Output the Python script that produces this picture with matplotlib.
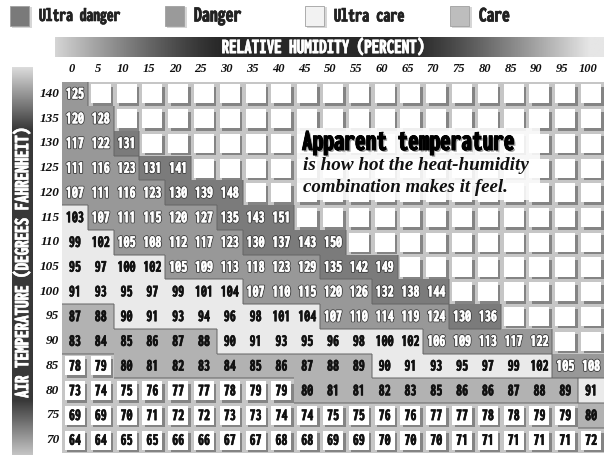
import os

import numpy as np
import matplotlib.pyplot as plt
from matplotlib import font_manager as fm
from matplotlib.patches import Rectangle
import matplotlib.patheffects as pe

# relative humidity (percent) across, air temperature (F) down
humidity = list(range(0, 105, 5))
air_temp = [140, 135, 130, 125, 120, 115, 110, 105, 100, 95, 90, 85, 80, 75, 70]

# apparent temperature, one row per air temperature (blank cells are left out)
apparent = [
    [125],
    [120, 128],
    [117, 122, 131],
    [111, 116, 123, 131, 141],
    [107, 111, 116, 123, 130, 139, 148],
    [103, 107, 111, 115, 120, 127, 135, 143, 151],
    [99, 102, 105, 108, 112, 117, 123, 130, 137, 143, 150],
    [95, 97, 100, 102, 105, 109, 113, 118, 123, 129, 135, 142, 149],
    [91, 93, 95, 97, 99, 101, 104, 107, 110, 115, 120, 126, 132, 138, 144],
    [87, 88, 90, 91, 93, 94, 96, 98, 101, 104, 107, 110, 114, 119, 124, 130, 136],
    [83, 84, 85, 86, 87, 88, 90, 91, 93, 95, 96, 98, 100, 102, 106, 109, 113, 117, 122],
    [78, 79, 80, 81, 82, 83, 84, 85, 86, 87, 88, 89, 90, 91, 93, 95, 97, 99, 102, 105, 108],
    [73, 74, 75, 76, 77, 77, 78, 79, 79, 80, 81, 81, 82, 83, 85, 86, 86, 87, 88, 89, 91],
    [69, 69, 70, 71, 72, 72, 73, 73, 74, 74, 75, 75, 76, 76, 77, 77, 78, 78, 79, 79, 80],
    [64, 64, 65, 65, 66, 66, 67, 67, 68, 68, 69, 69, 70, 70, 70, 71, 71, 71, 71, 71, 72],
]

categories = ["Ultra danger", "Danger", "Ultra care", "Care"]
cat_lower = [130, 105, 90, 80]
cat_colors = ["#7b7b7b", "#989898", "#eaeaea", "#b2b2b2"]
legend_colors = ["#7a7a7a", "#9a9a9a", "#f2f2f2", "#bdbdbd"]

W, H = 604, 455
serif = ["Liberation Serif", "DejaVu Serif"]


def pick_narrow_bold():
    # look for a condensed heavy sans face, close to the poster's Impact-like type
    files = [f.fname for f in fm.fontManager.ttflist]
    prefs = ["extracondensedblack", "extracondensedextrabold", "extracondensedbold",
             "condensedblack", "condensedbold", "condensed-bold", "narrow-bold",
             "narrowbold", "condbold"]
    skip = ("italic", "oblique", "mono", "serif", "semicondensed")
    for p in prefs:
        for fn in sorted(files):
            base = os.path.basename(fn).lower().replace("_", "")
            if p in base and not any(w in base for w in skip):
                return fm.FontProperties(fname=fn)
    return fm.FontProperties(family="DejaVu Sans", weight="bold")


narrow = pick_narrow_bold()


def heavy(color, lw=0.5):
    return [pe.withStroke(linewidth=lw, foreground=color)]


def category(v):
    for k, lo in enumerate(cat_lower):
        if v >= lo:
            return k
    return None


def fx(x):
    return x / W


def fy(y):
    return 1 - y / H


fig = plt.figure(figsize=(W / 100, H / 100), dpi=100)
fig.patch.set_facecolor("white")
renderer = fig.canvas.get_renderer()


def fit(txt, width=None, height=None):
    bb = txt.get_window_extent(renderer)
    size = txt.get_fontsize()
    if width is not None:
        size = size * width / bb.width
    if height is not None:
        size = min(size, txt.get_fontsize() * height / bb.height)
    txt.set_fontsize(size)
    return size


# legend row
leg_x = [10, 165, 305, 450]
leg_w = [82, 49, 71, 31]
for k, name in enumerate(categories):
    fig.patches.append(Rectangle((fx(leg_x[k] + 2), fy(28)), fx(20), 21 / H,
                                 transform=fig.transFigure, facecolor="#bbbbbb",
                                 edgecolor="none", alpha=0.6))
    fig.patches.append(Rectangle((fx(leg_x[k]), fy(26)), fx(19), 20 / H,
                                 transform=fig.transFigure, facecolor=legend_colors[k],
                                 edgecolor="#a0a0a0", lw=0.6))
    t = fig.text(fx(leg_x[k] + 29), fy(16), name, fontproperties=narrow,
                 fontsize=12, color="#222222", va="center", ha="left",
                 path_effects=heavy("#222222", 0.4))
    fit(t, width=leg_w[k], height=19)

# humidity header bar
hax = fig.add_axes([fx(55), fy(57), fx(W - 55), 20 / H])
u = np.linspace(-1, 1, 400)
shade = 0.16 + 0.74 * np.clip((np.abs(u + 0.05) - 0.35) / 0.65, 0, 1) ** 1.2
hax.imshow(shade[None, :], cmap="gray", vmin=0, vmax=1, aspect="auto")
hax.axis("off")
t = hax.text(0.488, 0.48, "RELATIVE HUMIDITY (PERCENT)", transform=hax.transAxes,
             fontproperties=narrow, fontsize=13, color="white",
             ha="center", va="center", path_effects=heavy("white", 0.3))
fit(t, width=228, height=19)

# air temperature side bar
vax = fig.add_axes([fx(12), 0.0, fx(21), fy(67)])
s = np.linspace(0, 1, 400)
vshade = 0.86 - 0.64 * np.clip(s / 0.16, 0, 1) + 0.55 * np.clip((s - 0.86) / 0.14, 0, 1)
vax.imshow(vshade[:, None], cmap="gray", vmin=0, vmax=1, aspect="auto")
vax.axis("off")
t = vax.text(0.5, 0.495, "AIR TEMPERATURE (DEGREES FAHRENHEIT)", transform=vax.transAxes,
             fontproperties=narrow, fontsize=13, color="white",
             ha="center", va="center", rotation=90, path_effects=heavy("white", 0.3))
bb = t.get_window_extent(renderer)
t.set_fontsize(min(t.get_fontsize() * 370 / bb.height, t.get_fontsize() * 19 / bb.width))

# main grid
ax = fig.add_axes([fx(62), fy(452.5), fx(542), 371 / H])
ax.set_xlim(-0.5, len(humidity) - 0.5)
ax.set_ylim(len(air_temp) - 0.5, -0.5)
ax.axis("off")

px = 1 / 25.8
py = 1 / 24.73
box_w, box_h = 20 * px, 19 * py

cats = [[category(v) for v in row] for row in apparent]

probe = ax.text(0, 0, "125", fontproperties=narrow, fontsize=9)
num_size = fit(probe, width=18, height=15)
probe.remove()

white_num = [pe.Stroke(linewidth=1.6, foreground="#404040"),
             pe.Stroke(linewidth=0.3, foreground="white"), pe.Normal()]

for i, temp in enumerate(air_temp):
    for j, rh in enumerate(humidity):
        has_val = j < len(apparent[i])
        c = cats[i][j] if has_val else None
        if c is not None:
            ax.add_patch(Rectangle((j - 0.5, i - 0.5), 1, 1, facecolor=cat_colors[c],
                                   edgecolor="none"))
        else:
            ax.add_patch(Rectangle((j - 0.5, i - 0.5), 1, 1, facecolor="#c6c6c6",
                                   edgecolor="none"))
            ax.add_patch(Rectangle((j - box_w / 2 + 2.5 * px, i - box_h / 2 + 2.5 * py),
                                   box_w, box_h, facecolor="#6e6e6e", edgecolor="none",
                                   alpha=0.75))
            ax.add_patch(Rectangle((j - box_w / 2, i - box_h / 2), box_w, box_h,
                                   facecolor="white", edgecolor="none"))
        if has_val:
            v = apparent[i][j]
            if c in (0, 1):
                ax.text(j, i + 0.03, str(v), fontproperties=narrow, fontsize=num_size,
                        color="white", ha="center", va="center", path_effects=white_num)
            else:
                ax.text(j, i + 0.03, str(v), fontproperties=narrow, fontsize=num_size,
                        color="#111111", ha="center", va="center",
                        path_effects=heavy("#111111", 0.3))

# darker edge where one shading zone meets another
for i in range(len(air_temp)):
    for j in range(len(humidity)):
        here = cats[i][j] if j < len(apparent[i]) else None
        if here is None:
            continue
        right = cats[i][j + 1] if j + 1 < len(apparent[i]) else None
        below = cats[i + 1][j] if i + 1 < len(air_temp) else "edge"
        if j + 1 < len(humidity) and right != here:
            ax.plot([j + 0.5, j + 0.5], [i - 0.5, i + 0.5], color="#666666", lw=1.2,
                    alpha=0.6, solid_capstyle="butt")
        if below != here and below != "edge":
            ax.plot([j - 0.5, j + 0.5], [i + 0.5, i + 0.5], color="#666666", lw=1.2,
                    alpha=0.6, solid_capstyle="butt")

# axis labels
for j, rh in enumerate(humidity):
    ax.text(j - 0.12, -1.0, str(rh), family=serif, style="italic", weight="bold",
            fontsize=9, color="#111111", ha="center", va="center", clip_on=False)
for i, temp in enumerate(air_temp):
    ax.text(-0.6, i, str(temp), family=serif, style="italic", weight="bold",
            fontsize=9.5, color="#111111", ha="right", va="center", clip_on=False)

# note
fig.patches.append(Rectangle((fx(297), fy(200)), fx(243), 72 / H,
                             transform=fig.transFigure, facecolor="white",
                             edgecolor="none", alpha=0.88))
t = fig.text(fx(302), fy(142), "Apparent temperature", fontproperties=narrow,
             fontsize=17, color="black", ha="left", va="center",
             path_effects=[pe.withSimplePatchShadow(offset=(1.2, -1.2),
                                                    shadow_rgbFace="#888888", alpha=0.8),
                           pe.withStroke(linewidth=0.6, foreground="black")])
fit(t, width=231, height=27)
t = fig.text(fx(303), fy(165), "is how hot the heat-humidity", family=serif,
             style="italic", weight="bold", fontsize=11.5, color="#111111",
             ha="left", va="center")
fit(t, width=227)
t = fig.text(fx(303), fy(187), "combination makes it feel.", family=serif,
             style="italic", weight="bold", fontsize=11.5, color="#111111",
             ha="left", va="center")
fit(t, width=205)

fig.savefig("out.png", dpi=100)
